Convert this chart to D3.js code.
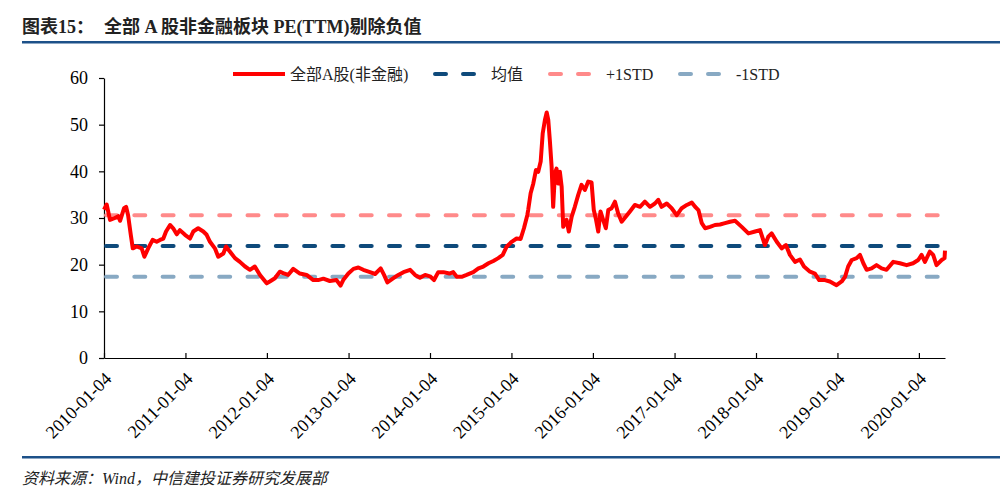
<!DOCTYPE html>
<html lang="zh">
	<head>
		<meta charset="utf-8">
		<title>全部A股非金融板块 PE(TTM)</title>
		<script src="https://cdn.jsdelivr.net/npm/d3@7/dist/d3.min.js"></script>
		<style>
			body { margin: 0; background: #fff; }
			text { font-family: "Liberation Serif", "Noto Sans CJK SC", serif; }
		</style>
	</head>
	<body>
		<script>

		/*//////////////
		//    Data    //
		//////////////*/

		// PE(TTM) readings
		var dates = [
			"2010-01-04","2010-01-16","2010-01-31","2010-02-22","2010-03-09","2010-03-17","2010-04-04","2010-04-13",
			"2010-04-22","2010-05-04","2010-05-13","2010-05-30","2010-06-22","2010-07-04","2010-07-21","2010-08-10",
			"2010-08-28","2010-09-12","2010-09-27","2010-10-09","2010-10-27","2010-11-10","2010-11-26","2010-12-10",
			"2011-01-02","2011-01-24","2011-02-08","2011-03-02","2011-03-25","2011-04-09","2011-04-24","2011-05-16",
			"2011-05-31","2011-06-23","2011-07-05","2011-07-22","2011-08-14","2011-09-05","2011-09-28","2011-10-20",
			"2011-11-11","2011-12-04","2012-01-03","2012-01-17","2012-02-09","2012-03-02","2012-03-17","2012-04-08",
			"2012-05-01","2012-05-31","2012-06-30","2012-07-30","2012-08-21","2012-09-13","2012-10-12","2012-11-11",
			"2012-11-29","2012-12-11","2013-01-03","2013-01-26","2013-02-17","2013-03-11","2013-04-10","2013-05-03",
			"2013-05-28","2013-06-12","2013-06-27","2013-07-24","2013-08-15","2013-09-07","2013-10-07","2013-10-29",
			"2013-11-20","2013-12-13","2014-01-04","2014-01-22","2014-02-10","2014-03-05","2014-04-01","2014-04-18",
			"2014-05-04","2014-05-26","2014-06-17","2014-07-17","2014-08-09","2014-08-31","2014-09-23","2014-10-15",
			"2014-11-06","2014-11-26","2014-12-14","2015-01-05","2015-01-27","2015-02-14","2015-03-01","2015-03-16",
			"2015-03-20","2015-03-31","2015-04-12","2015-04-24","2015-05-04","2015-05-15","2015-05-24","2015-06-03",
			"2015-06-11","2015-06-18","2015-06-25","2015-07-03","2015-07-10","2015-07-18","2015-07-25","2015-08-01",
			"2015-08-09","2015-08-17","2015-08-24","2015-09-08","2015-09-18","2015-10-01","2015-10-15","2015-10-30",
			"2015-11-14","2015-11-29","2015-12-14","2015-12-29","2016-01-08","2016-01-17","2016-01-28","2016-02-07",
			"2016-02-19","2016-03-02","2016-03-13","2016-03-28","2016-04-12","2016-04-26","2016-05-12","2016-05-31",
			"2016-06-18","2016-07-10","2016-08-02","2016-08-24","2016-09-16","2016-10-08","2016-10-23","2016-11-07",
			"2016-11-30","2016-12-22","2017-01-14","2017-02-05","2017-02-28","2017-03-22","2017-04-06","2017-04-21",
			"2017-05-06","2017-05-21","2017-06-12","2017-07-04","2017-07-27","2017-08-18","2017-09-10","2017-10-02",
			"2017-11-01","2017-12-01","2017-12-31","2018-01-22","2018-02-13","2018-02-28","2018-03-15","2018-04-07",
			"2018-04-29","2018-05-18","2018-06-05","2018-06-28","2018-07-20","2018-08-07","2018-09-03","2018-09-25",
			"2018-10-14","2018-11-09","2018-12-01","2018-12-31","2019-01-23","2019-02-07","2019-02-21","2019-03-09",
			"2019-03-31","2019-04-15","2019-04-30","2019-05-15","2019-06-06","2019-06-28","2019-07-21","2019-08-12",
			"2019-09-11","2019-10-11","2019-11-10","2019-12-09","2020-01-01","2020-01-16","2020-01-31","2020-02-22",
			"2020-03-08","2020-03-23","2020-04-15","2020-04-28","2020-04-30"
		];

		var pe = [
			31.8,32.9,29.6,30.0,30.4,29.4,32.1,32.4,
			30.6,26.4,23.5,23.9,23.5,21.7,23.5,25.3,
			24.9,25.3,25.6,27.1,28.5,27.8,26.5,27.4,
			26.4,25.6,27.1,27.8,27.1,26.4,24.9,23.5,
			21.7,22.4,23.9,22.8,21.4,20.6,19.6,18.9,
			19.6,17.8,16.0,16.4,17.1,18.5,18.2,17.8,
			19.1,18.1,17.8,16.7,16.7,17.0,16.5,16.7,
			15.5,16.7,18.1,19.1,19.4,18.9,18.4,18.0,
			19.2,17.8,16.2,17.1,17.8,18.4,18.9,17.8,
			17.2,17.8,17.5,16.7,18.4,18.4,18.1,18.4,
			17.4,17.4,17.8,18.4,19.2,19.6,20.3,20.8,
			21.4,22.1,23.9,24.9,25.6,25.5,27.8,30.6,
			31.7,35.3,37.4,40.3,39.9,42.1,48.1,51.0,
			52.6,51.0,46.7,41.0,32.4,39.6,40.6,37.4,
			39.9,36.7,28.1,29.6,27.1,30.3,32.4,34.9,
			37.1,36.0,37.8,37.6,31.7,29.9,27.1,31.4,
			29.6,27.8,31.7,32.1,33.5,31.0,29.2,30.3,
			31.4,32.8,32.4,33.5,32.4,33.1,33.9,32.4,
			33.1,32.1,30.6,32.1,32.8,33.3,32.4,31.7,
			28.9,27.8,28.1,28.5,28.6,28.9,29.2,29.4,
			28.1,26.7,27.1,27.4,24.2,26.0,26.7,24.9,
			23.5,24.2,22.1,20.6,21.1,19.6,18.5,18.1,
			16.7,16.7,16.4,15.6,16.4,17.4,19.6,21.0,
			21.4,22.1,20.3,18.9,19.2,19.9,19.2,18.9,
			20.6,20.3,19.9,20.3,21.0,22.1,20.6,22.8,
			22.1,19.9,21.0,21.4,23.0
		];

		// Mean and +/- one standard deviation
		var meanPE = 24.0;
		var plusStd = 30.6;
		var minusStd = 17.4;

		var yTicks = [0, 10, 20, 30, 40, 50, 60];
		var xTickLabels = [
			"2010-01-04","2011-01-04","2012-01-04","2013-01-04","2014-01-04","2015-01-04",
			"2016-01-04","2017-01-04","2018-01-04","2019-01-04","2020-01-04"
		];

		var legendNames = ["全部A股(非金融)", "均值", "+1STD", "-1STD"];

		/*//////////////////////
		//  SVG Canvas Setup  //
		//////////////////////*/

		var w = 1008;
		var h = 496;

		var parseDate = d3.timeParse("%Y-%m-%d");
		var fmtDate = d3.timeFormat("%Y-%m-%d");

		var data = dates.map(function(d, i) {
			return { date: parseDate(d), value: pe[i] };
		});

		var svg = d3.select("body")
			.append("svg")
			.attr("width", w)
			.attr("height", h);

		// Title and rules
		svg.append("text")
			.attr("x", 22)
			.attr("y", 33)
			.attr("font-size", 18)
			.attr("font-weight", "bold")
			.attr("fill", "#222")
			.text("图表15：");

		svg.append("text")
			.attr("x", 104)
			.attr("y", 33)
			.attr("font-size", 18)
			.attr("font-weight", "bold")
			.attr("fill", "#222")
			.text("全部 A 股非金融板块 PE(TTM)剔除负值");

		svg.append("rect")
			.attr("x", 22).attr("y", 41)
			.attr("width", 978).attr("height", 2.5)
			.attr("fill", "#1d5189");

		svg.append("rect")
			.attr("x", 22).attr("y", 456)
			.attr("width", 978).attr("height", 2.5)
			.attr("fill", "#1d5189");

		svg.append("text")
			.attr("x", 22)
			.attr("y", 484)
			.attr("font-size", 16)
			.attr("font-style", "italic")
			.attr("fill", "#222")
			.text("资料来源：Wind，中信建投证券研究发展部");

		/*////////////////
		//    Scales    //
		////////////////*/

		var x = d3.scaleTime()
			.domain([parseDate("2010-01-04"), parseDate("2020-04-30")])
			.range([104, 945]);

		var y = d3.scaleLinear()
			.domain([0, 60])
			.range([358, 78]);

		/*//////////////
		//    Axes    //
		//////////////*/

		var xAxis = svg.append("g")
			.attr("transform", "translate(0," + y(0) + ")")
			.call(d3.axisBottom(x)
				.tickValues(xTickLabels.map(parseDate))
				.tickSize(-5)
				.tickSizeOuter(0)
				.tickFormat(fmtDate));

		xAxis.selectAll("text")
			.attr("x", 0)
			.attr("y", 0)
			.attr("dy", 0)
			.attr("text-anchor", "end")
			.attr("transform", "translate(8,22) rotate(-45)")
			.attr("font-size", 18)
			.attr("fill", "#000");

		var yAxis = svg.append("g")
			.attr("transform", "translate(" + x.range()[0] + ",0)")
			.call(d3.axisLeft(y)
				.tickValues(yTicks)
				.tickSize(5)
				.tickSizeOuter(0)
				.tickPadding(11));

		yAxis.selectAll("text")
			.attr("font-size", 18)
			.attr("fill", "#000");

		svg.selectAll(".domain, .tick line")
			.attr("stroke", "#000")
			.attr("stroke-width", 1.2);
		svg.selectAll(".tick text").style("font-family", "Liberation Serif");

		/*///////////////////////
		//  Reference lines    //
		///////////////////////*/

		var refLines = [
			{ value: meanPE, color: "#0e4a7b" },
			{ value: plusStd, color: "#ff8a8a" },
			{ value: minusStd, color: "#88a9c3" }
		];

		svg.selectAll("line.ref")
			.data(refLines)
			.enter()
			.append("line")
			.attr("class", "ref")
			.attr("x1", x.range()[0] + 2)
			.attr("x2", x.range()[1])
			.attr("y1", function(d) { return y(d.value); })
			.attr("y2", function(d) { return y(d.value); })
			.attr("stroke", function(d) { return d.color; })
			.attr("stroke-width", 4)
			.attr("stroke-linecap", "round")
			.attr("stroke-dasharray", "11,17.3");

		// PE line
		var line = d3.line()
			.x(function(d) { return x(d.date); })
			.y(function(d) { return y(d.value); });

		svg.append("path")
			.datum(data)
			.attr("d", line)
			.attr("fill", "none")
			.attr("stroke", "#ff0000")
			.attr("stroke-width", 4)
			.attr("stroke-linejoin", "round");

		/*////////////////
		//    Legend    //
		////////////////*/

		var legendItems = [
			{ name: legendNames[0], color: "#ff0000", dash: null, x: 233 },
			{ name: legendNames[1], color: "#0e4a7b", dash: "11,17", x: 435 },
			{ name: legendNames[2], color: "#ff8a8a", dash: "11,17", x: 550 },
			{ name: legendNames[3], color: "#88a9c3", dash: "11,17", x: 680 }
		];

		var legend = svg.selectAll("g.legend")
			.data(legendItems)
			.enter()
			.append("g")
			.attr("class", "legend")
			.attr("transform", function(d) { return "translate(" + d.x + ",74)"; });

		legend.append("line")
			.attr("x1", 0)
			.attr("x2", function(d) { return d.dash ? 40 : 52; })
			.attr("stroke", function(d) { return d.color; })
			.attr("stroke-width", 4)
			.attr("stroke-linecap", function(d) { return d.dash ? "round" : "butt"; })
			.attr("stroke-dasharray", function(d) { return d.dash; });

		legend.append("text")
			.attr("x", function(d) { return d.dash ? 56 : 57; })
			.attr("y", 6)
			.attr("font-size", 16)
			.attr("fill", "#222")
			.text(function(d) { return d.name; });

		</script>
	</body>
</html>
